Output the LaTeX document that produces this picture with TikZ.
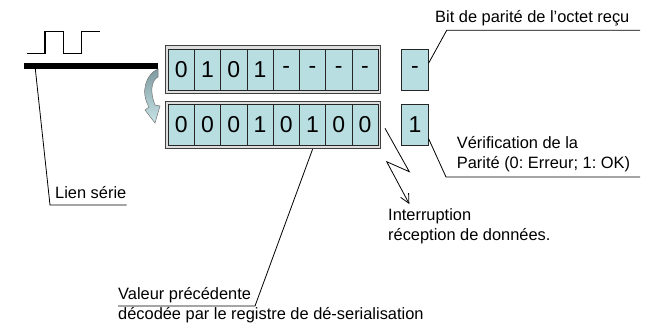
\documentclass[tikz,border=0pt]{standalone}
\usepackage{fontspec}
\setmainfont{Liberation Sans}
\usetikzlibrary{positioning,arrows.meta,calc}
\definecolor{cellbg}{RGB}{185,222,226}
\definecolor{framebg}{RGB}{222,222,222}
\definecolor{arrtop}{RGB}{125,155,160}
\definecolor{arrbot}{RGB}{200,228,232}
\frenchspacing
\tikzset{
  frame/.style={draw=black!75,fill=framebg,line width=0.8pt,minimum width=215pt,minimum height=47.6pt,inner sep=0pt},
  cell/.style={draw=black!85,fill=cellbg,line width=0.8pt,minimum width=26.25pt,minimum height=41.7pt,inner sep=0pt,font=\fontsize{23}{26}\selectfont},
  lbl/.style={align=left,inner sep=0pt,font=\fontsize{16.4}{19.5}\selectfont},
  lead/.style={line width=0.8pt},
  bus/.style={line width=5.5pt},
  wave/.style={line width=1.5pt},
  ar/.style={-{Straight Barb[length=9pt,width=9pt]},line width=0.8pt},
}

\begin{document}
\begin{tikzpicture}[x=1pt,y=-1pt]
  \useasboundingbox (0,0) rectangle (657,325);
  % serial link
  \draw[wave] (27,53.3) -- (45,53.3) -- (45,31.7) -- (63.3,31.7) -- (63.3,53.3)
    -- (81.7,53.3) -- (81.7,31.7) -- (100,31.7);
  \coordinate (busL) at (24,66);
  \coordinate (busR) at (158,66);
  \draw[bus] (busL) -- (busR);
  % shift arrow
  \shade[top color=arrtop,bottom color=arrbot,draw=black!55,line width=0.5pt]
    (158,69) .. controls (146,74) and (140,92) .. (149,107) -- (145,110) -- (155,123)
    -- (160,106) -- (155,105) .. controls (150,93) and (151,80) .. (158,77) -- cycle;
  % registers
  \node[frame] (regA) at (273.2,69.6) {};
  \node[frame] (regB) at (273.2,125) {};
  \foreach \v [count=\i] in {0,1,0,1,-,-,-,-}
    \node[cell] (a\i) at ({168.2+26.25*(\i-0.5)},69.85) {\v};
  \foreach \v [count=\i] in {0,0,0,1,0,1,0,0}
    \node[cell] (b\i) at ({168.2+26.25*(\i-0.5)},125) {\v};
  \node[cell] (pa) at (415,69.85) {-};
  \node[cell] (pb) at (415,125) {1};
  % labels
  \node[lbl,anchor=base west] (lblbit) at (435,22) {Bit de parité de l’octet reçu};
  \coordinate (kbit) at (446.7,30.3);
  \coordinate (ebit) at (640,30.3);
  \draw[lead] ([yshift=6.5pt]pa.east) -- (kbit) -- (ebit);
  \node[lbl,anchor=base west] (lblver) at (456.7,168) {Vérification de la\\Parité (0: Erreur; 1: OK)};
  \coordinate (kver) at (446,177);
  \coordinate (ever) at (640,177);
  \draw[lead] ([yshift=-13.5pt]pb.east) -- (kver) -- (ever);
  \node[lbl,anchor=base west] (lblbus) at (55,198.3) {Lien série};
  \coordinate (tbus) at (35,66);
  \coordinate (kbus) at (50,205);
  \draw[lead] (tbus) -- (kbus) -- (kbus -| lblbus.east);
  \node[lbl,anchor=base west] (lblval) at (118,319) {Valeur précédente\\décodée par le registre de dé-serialisation};
  \coordinate (kval) at (255,306);
  \draw[lead] (b6.south |- regB.south) -- (kval) -- (kval -| lblval.west);
  \node[lbl,anchor=base west] (lblint) at (388,240) {Interruption\\réception de données.};
  \coordinate (z0) at (385,128.3);
  \coordinate (z1) at (409.3,171.7);
  \coordinate (z2) at (386.7,161.7);
  \coordinate (z3) at (409.3,204);
  \draw[ar] (z0) -- (z1) -- (z2) -- (z3);
\end{tikzpicture}
\end{document}
